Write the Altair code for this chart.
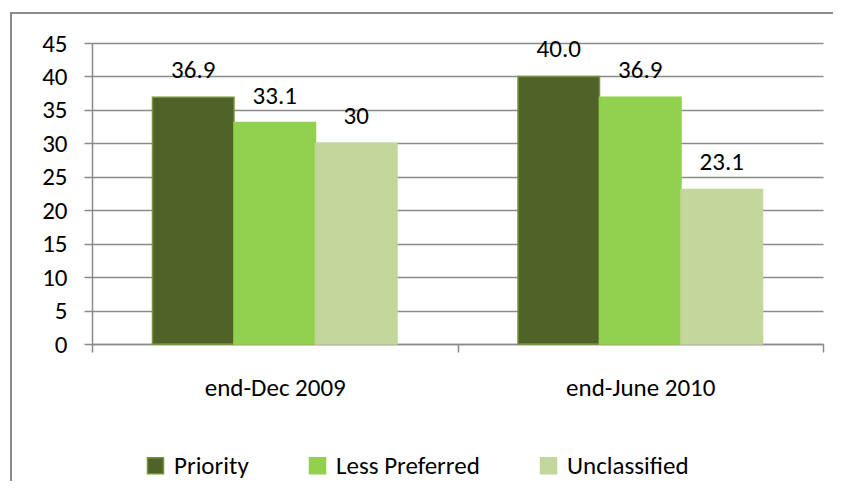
import altair as alt
import pandas as pd

periods = ["end-Dec 2009", "end-June 2010"]
series = ["Priority", "Less Preferred", "Unclassified"]
values_dec2009 = [36.9, 33.1, 30.0]
values_jun2010 = [40.0, 36.9, 23.1]
labels_dec2009 = ["36.9", "33.1", "30"]
labels_jun2010 = ["40.0", "36.9", "23.1"]
y_ticks = [0, 5, 10, 15, 20, 25, 30, 35, 40, 45]

fill_colors = ["#4F6228", "#92D050", "#C3D69B"]
stroke_colors = ["#77933C", "#92D050", "#C3D69B"]

rows = []
for p, vals, labs in [(periods[0], values_dec2009, labels_dec2009),
                      (periods[1], values_jun2010, labels_jun2010)]:
    for s, v, l in zip(series, vals, labs):
        rows.append({"period": p, "series": s, "value": v, "label": l})
df = pd.DataFrame(rows)

FONT = "Calibri, Carlito, Lato"
FS = 25
GRID = "#8a8a8a"

legend_spec = alt.Legend(
    title=None, orient="none", legendX=51, legendY=410, direction="horizontal",
    symbolType="square", symbolSize=256, symbolStrokeWidth=1.5,
    labelFontSize=FS, labelFont=FONT, labelColor="black", labelOffset=6,
    columnPadding=56, padding=0, symbolOpacity=1,
)

y_axis = alt.Axis(title=None, values=y_ticks, grid=True, gridColor=GRID,
                  gridWidth=1.5, domainColor=GRID, domainWidth=1.5,
                  tickColor=GRID, tickWidth=1.5, tickSize=8,
                  labelFontSize=FS, labelFont=FONT, labelColor="black",
                  labelPadding=17, labelOverlap=False)

x_enc = alt.X("period:N", sort=periods,
              scale=alt.Scale(paddingInner=0, paddingOuter=0),
              axis=alt.Axis(title=None, labelAngle=0, tickBand="extent",
                            tickSize=8, tickColor=GRID, domainColor=GRID,
                            tickWidth=1.5, domainWidth=1.5,
                            labelFontSize=FS, labelFont=FONT, labelColor="black",
                            labelBaseline="alphabetic", labelPadding=43, grid=False))
xo_enc = alt.XOffset("series:N", sort=series,
                     scale=alt.Scale(paddingInner=0, paddingOuter=0.742))
y_scale = alt.Scale(domain=[0, 45], nice=False)

base = alt.Chart(df).encode(x=x_enc, xOffset=xo_enc)

bars = base.mark_bar(strokeWidth=1.5).encode(
    y=alt.Y("value:Q", scale=y_scale, axis=y_axis),
    color=alt.Color("series:N", sort=series,
                    scale=alt.Scale(domain=series, range=fill_colors),
                    legend=legend_spec),
    stroke=alt.Stroke("series:N", sort=series,
                      scale=alt.Scale(domain=series, range=stroke_colors),
                      legend=legend_spec),
)

texts = base.mark_text(baseline="alphabetic", dy=-19, fontSize=FS, font=FONT,
                       color="black").encode(
    y=alt.Y("value:Q", scale=y_scale, axis=y_axis),
    text="label:N",
)

frame_data = alt.Data(values=[{"f": 1}])
frame_top = alt.Chart(frame_data).mark_rule(color="#8c8c8c", strokeWidth=2).encode(
    x=alt.value(-81), x2=alt.value(745), y=alt.value(-30)
)
frame_left = alt.Chart(frame_data).mark_rule(color="#8c8c8c", strokeWidth=2).encode(
    x=alt.value(-81), y=alt.value(-31), y2=alt.value(600)
)

chart = alt.layer(frame_top, frame_left, bars, texts).properties(
    width=731, height=301,
    autosize=alt.AutoSizeParams(type="none"),
    padding={"left": 84, "top": 35, "right": 10, "bottom": 137},
).configure(font=FONT).configure_view(stroke="transparent", strokeWidth=0)

chart.save("out.html", embed_options={"renderer": "svg", "actions": False})
